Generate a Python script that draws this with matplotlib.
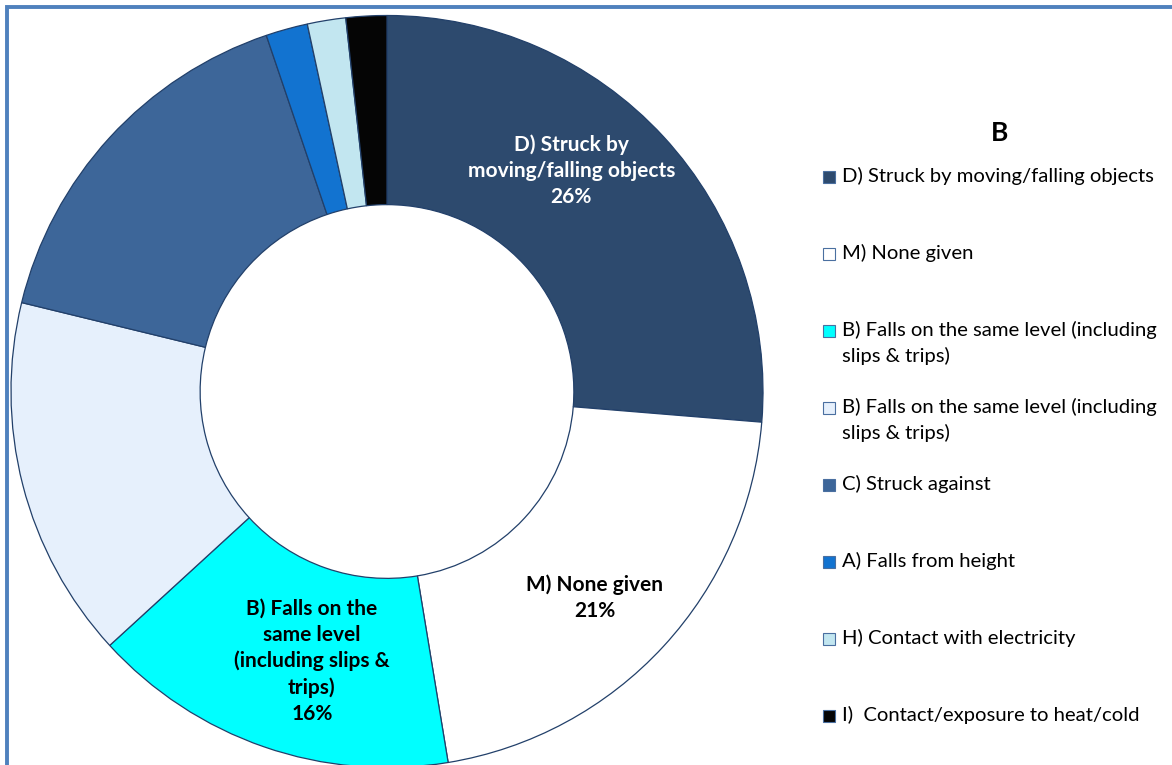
import matplotlib
matplotlib.use("Agg")
import matplotlib.pyplot as plt
from matplotlib.patches import Rectangle

plt.rcParams['font.family'] = ['Lato', 'DejaVu Sans']

# accident categories, clockwise from 12 o'clock
categories = [
    "D) Struck by moving/falling objects",
    "M) None given",
    "B) Falls on the same level (including\nslips & trips)",
    "B) Falls on the same level (including\nslips & trips)",
    "C) Struck against",
    "A) Falls from height",
    "H) Contact with electricity",
    "I)  Contact/exposure to heat/cold",
]
shares = [26.3, 21.1, 15.8, 15.6, 16.0, 1.8, 1.65, 1.75]
colors = ["#2d4a6e", "#ffffff", "#00ffff", "#e6f0fc",
          "#3d6699", "#1273d0", "#c2e6f0", "#050505"]

# slice labels that carry text inside the ring
slice_labels = {
    0: "D) Struck by\nmoving/falling objects\n{:.0f}%",
    1: "M) None given\n{:.0f}%",
    2: "B) Falls on the\nsame level\n(including slips &\ntrips)\n{:.0f}%",
}
label_xy = {0: (0.49, 0.588), 1: (0.553, -0.549), 2: (-0.2, -0.718)}
label_color = {0: "white", 1: "black", 2: "black"}

W, H = 1172, 765
fig = plt.figure(figsize=(W / 100, H / 100), dpi=100)

# outer frame, only top and left edges fall inside the canvas
fig.patches.append(Rectangle((7 / W, -0.1), 1.2, 1 - 7 / H + 0.1,
                             transform=fig.transFigure, fill=False,
                             edgecolor="#4f81bd", linewidth=2.8, zorder=0))

cx, cy, r = 387, 391.5, 376
ax = fig.add_axes([(cx - r) / W, (H - cy - r) / H, 2 * r / W, 2 * r / H])
wedges, _ = ax.pie(shares, colors=colors, startangle=90, counterclock=False,
                   radius=1.0,
                   wedgeprops=dict(width=0.503, edgecolor="#22406a", linewidth=0.9))
ax.set_xlim(-1, 1)
ax.set_ylim(-1, 1)
ax.set_aspect("equal")
ax.axis("off")

for i, fmt in slice_labels.items():
    x, y = label_xy[i]
    ax.text(x, y, fmt.format(shares[i]), ha="center", va="center",
            fontsize=15, fontweight="bold", color=label_color[i],
            linespacing=1.38)

# legend drawn as swatches plus text, one slot per category
fig.text(1000 / W, 1 - 133 / H, "B", ha="center", va="center",
         fontsize=19, fontweight="bold")
y0, step = 177, 77
for k, (lab, col) in enumerate(zip(categories, colors)):
    ytop = y0 + k * step
    fig.patches.append(Rectangle((823 / W, 1 - (ytop + 6) / H), 12 / W, 12 / H,
                                 transform=fig.transFigure, facecolor=col,
                                 edgecolor="#4a6fa0", linewidth=0.8))
    fig.text(842 / W, 1 - (ytop - 10) / H, lab, ha="left", va="top",
             fontsize=14.6, linespacing=1.5)

fig.savefig("out.png", dpi=100)
